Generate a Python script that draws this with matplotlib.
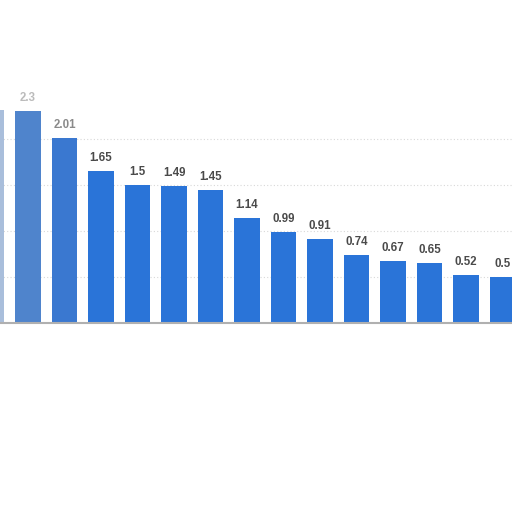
import numpy as np
import matplotlib.pyplot as plt

values = [2.32, 2.3, 2.01, 1.65, 1.5, 1.49, 1.45, 1.14, 0.99, 0.91, 0.74, 0.67, 0.65, 0.52, 0.5]
labels = ["2.32", "2.3", "2.01", "1.65", "1.5", "1.49", "1.45", "1.14", "0.99", "0.91",
          "0.74", "0.67", "0.65", "0.52", "0.5"]
bar_colors = ["#a9bedb", "#4f84cc", "#3a78d0"] + ["#2a74d8"] * 12
text_colors = ["#c8c8c8", "#bbbbbb", "#8a8a8a"] + ["#4a4a4a"] * 12

x = np.arange(len(values))

fig = plt.figure(figsize=(5.12, 5.12), dpi=100)
ax = fig.add_axes([0, 0, 1, 1])

ax.bar(x, values, width=0.71, color=bar_colors, zorder=3)
for i in range(len(values)):
    ax.annotate(labels[i], (x[i], values[i]), xytext=(0, 5), textcoords="offset points",
                ha="center", va="bottom", fontsize=8.3, fontweight="bold",
                color=text_colors[i], family="Liberation Sans", zorder=4)

ax.set_xlim(0.233, 14.26)
ax.set_ylim(-2.054, 3.511)
ax.set_yticks([0.5, 1.0, 1.5, 2.0])
ax.grid(axis="y", color="#d8d8d8", linestyle=(0, (1, 2)), linewidth=0.8, zorder=0)
ax.axhline(0, color="#b0b0b0", linewidth=1.5, zorder=5)
ax.tick_params(left=False, bottom=False, labelleft=False, labelbottom=False)
for s in ax.spines.values():
    s.set_visible(False)

fig.savefig("out.png", dpi=100)
